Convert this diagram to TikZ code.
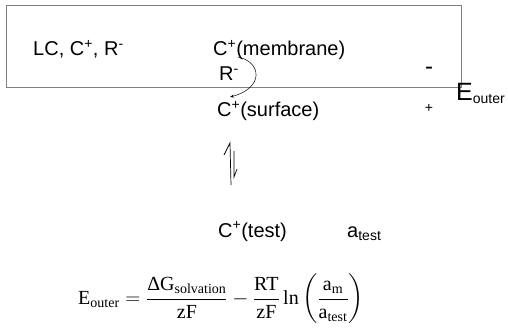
\documentclass[tikz,border=0pt]{standalone}
\usepackage{fontspec}
\usepackage{amsmath}
\setmainfont{Liberation Sans}
\newfontfamily\eqfont{Liberation Serif}
\usetikzlibrary{arrows.meta}

\begin{document}
\begin{tikzpicture}[x=1pt,y=-1pt,
  lbl/.style={anchor=base west,inner sep=0pt,font=\fontsize{20}{24}\selectfont},
  sign/.style={inner sep=0pt}]
% 508 x 334, membrane with ion exchange
\useasboundingbox (0,0) rectangle (508,334);
\path[draw={rgb,255:red,128;green,128;blue,128},line width=1pt] (6,6) rectangle (461,88);
\node[lbl] (species) at (33,56) {LC, C\textsuperscript{+}, R\textsuperscript{-}};
\node[lbl] (membrane) at (213,56) {C\textsuperscript{+}(membrane)};
\node[lbl] (anion) at (219,81) {R\textsuperscript{-}};
\node[lbl] (surface) at (217,117) {C\textsuperscript{+}(surface)};
\node[lbl] (test) at (218,237) {C\textsuperscript{+}(test)};
\node[lbl] (activity) at (347,237) {a\textsubscript{\fontsize{14}{16}\selectfont test}};
\node[sign,font=\fontsize{24}{28}\selectfont] (minus) at (429,71) {-};
\node[sign,font=\fontsize{14}{16}\selectfont] (plus) at (429,108) {+};
\node[anchor=base west,inner sep=0pt,font=\fontsize{25}{30}\selectfont] (eouter) at (456,100) {E\textsubscript{\fontsize{14}{16}\selectfont outer}};
% transfer of the cation to the surface
\coordinate (curvestart) at (238,57);
\coordinate (curveend) at (230,97);
\draw[line width=0.5pt,-{Stealth[length=4pt,width=3pt]}] (curvestart) .. controls (262,62) and (264,88) .. (curveend);
% equilibrium harpoons
\draw[line width=0.7pt] (231,185) -- (230,143) -- (224,155);
\draw[line width=0.7pt] (234,151) -- (234,177) -- (237,169);
% Nernst type equation
\node[anchor=west,inner sep=0pt,font=\eqfont\fontsize{20}{24}\selectfont] (equation) at (78,299)
  {$\text{E}_{\text{outer}} = \dfrac{\text{ΔG}_{\text{solvation}}}{\text{zF}} - \dfrac{\text{RT}}{\text{zF}}\,\text{ln}\left(\dfrac{\text{a}_{\text{m}}}{\text{a}_{\text{test}}}\right)$};
\end{tikzpicture}
\end{document}
